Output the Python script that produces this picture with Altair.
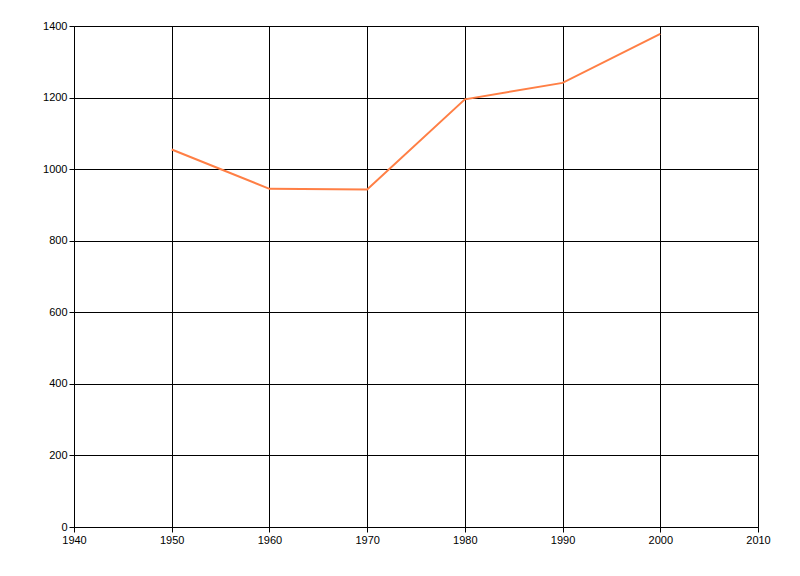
import altair as alt
import pandas as pd

years = [1950, 1960, 1970, 1980, 1990, 2000]
values = [1055, 945, 943, 1195, 1241, 1378]

df = pd.DataFrame({"year": years, "value": values})

axis_common = dict(
    grid=True, gridColor="#000000", gridWidth=1, gridOpacity=1,
    domainColor="#000000", domainWidth=1,
    tickColor="#000000", tickSize=5, tickWidth=1,
    labelColor="#000000", labelFont="Liberation Sans", labelFontSize=11,
    labelFlush=False, format="d",
    title=None,
)

chart = alt.Chart(df).mark_line(color="#FF7F45", strokeWidth=2).encode(
    x=alt.X("year:Q", scale=alt.Scale(domain=[1940, 2010], nice=False, zero=False),
            axis=alt.Axis(values=list(range(1940, 2011, 10)), labelPadding=2, **axis_common)),
    y=alt.Y("value:Q", scale=alt.Scale(domain=[0, 1400], nice=False),
            axis=alt.Axis(values=list(range(0, 1401, 200)), labelPadding=2, **axis_common)),
).properties(
    width=684, height=501,
    autosize=alt.AutoSizeParams(type="none"),
    padding={"left": 66, "top": 18, "right": 30, "bottom": 40},
).configure_view(stroke=None)

chart.save("out.html", embed_options={"renderer": "svg", "actions": False})
